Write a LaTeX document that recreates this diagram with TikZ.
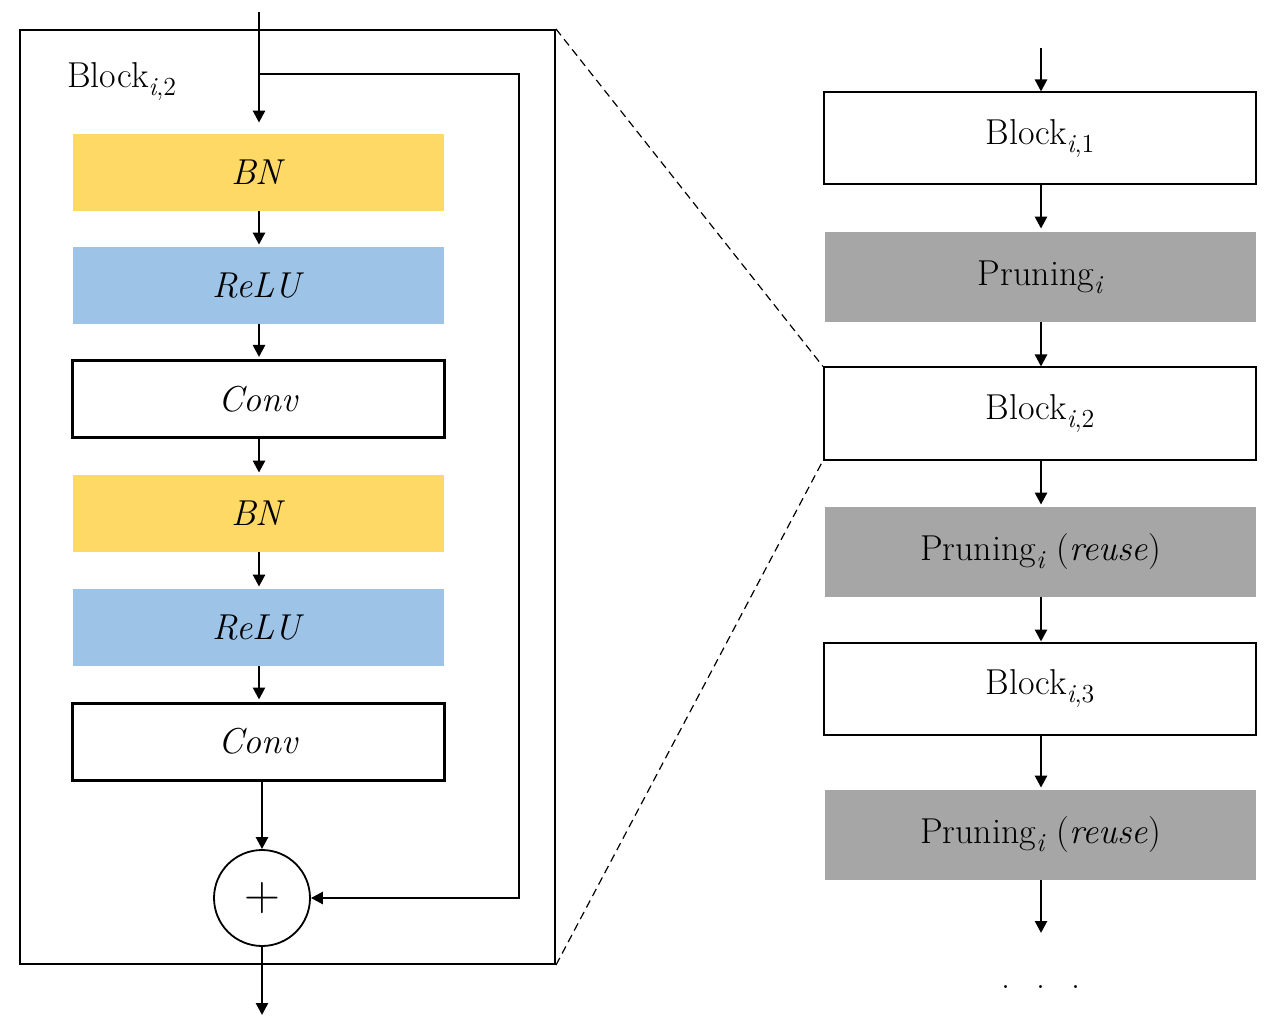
\documentclass[tikz,border=0pt]{standalone}
\usepackage{fontspec}
\usetikzlibrary{arrows.meta}
\definecolor{bnyellow}{HTML}{FFD966}
\definecolor{relublue}{HTML}{9DC3E6}
\definecolor{prungray}{HTML}{A6A6A6}
\newcommand{\sbs}[1]{\raisebox{-4pt}{\fontsize{13}{15}\selectfont #1}}
\begin{document}
\begin{tikzpicture}[x=0.5pt,y=-0.5pt,
  every node/.style={font=\fontsize{18}{21}\selectfont, inner sep=0pt},
  layer/.style={minimum width=185.5pt, minimum height=38.5pt},
  bnbox/.style={layer, fill=bnyellow},
  relubox/.style={layer, fill=relublue},
  convbox/.style={minimum width=186pt, minimum height=38.5pt, draw, line width=1.5pt},
  blockbox/.style={minimum width=216pt, minimum height=46pt, draw, line width=1pt},
  prunbox/.style={minimum width=215.5pt, minimum height=45pt, fill=prungray},
  arr/.style={line width=1.3pt, -{Triangle[width=6pt,length=6pt]}},
  zoomline/.style={line width=0.6pt, dash pattern=on 4pt off 2.5pt}]
\useasboundingbox (0,0) rectangle (1277,1031);

% ---------- left: detailed block ----------
\node[draw, line width=1pt, minimum width=267.5pt, minimum height=467pt] (outer) at (287.5,497) {};
\node[anchor=base west] (lbl) at (67,88) {Block\sbs{\textit{i},2}};

\node[bnbox] (bn1) at (258.5,172.5) {\textit{BN}};
\node[relubox] (relu1) at (258.5,285.5) {\textit{ReLU}};
\node[convbox] (conv1) at (258.5,399) {\textit{Conv}};
\node[bnbox] (bn2) at (258.5,513.5) {\textit{BN}};
\node[relubox] (relu2) at (258.5,627.5) {\textit{ReLU}};
\node[convbox] (conv2) at (258.5,741.5) {\textit{Conv}};
\node[draw, circle, line width=0.9pt, minimum size=48pt, font=\fontsize{24}{26}\selectfont] (plus) at (262,898) {$+$};

\coordinate (in) at (259,12);
\coordinate (sk) at (259,74);
\coordinate (skr) at (519,74);
\coordinate (out) at (262,1015);

\draw[arr, shorten >=5.5pt] (in) -- (bn1.north -| in);
\draw[arr, shorten >=1pt] (bn1.south -| in) -- (relu1.north -| in);
\draw[arr, shorten >=1pt] (relu1.south -| in) -- (conv1.north -| in);
\draw[arr, shorten >=1pt] (conv1.south -| in) -- (bn2.north -| in);
\draw[arr, shorten >=1pt] (bn2.south -| in) -- (relu2.north -| in);
\draw[arr, shorten >=1pt] (relu2.south -| in) -- (conv2.north -| in);
\draw[arr] (conv2.south -| plus.north) -- (plus.north);
\draw[arr] (sk) -- (skr) |- (plus.east);
\draw[arr] (plus.south) -- (out);

% ---------- right: chain ----------
\node[blockbox] (b1) at (1040,138.5) {Block\sbs{\textit{i},1}};
\node[prunbox] (p1) at (1040.5,277) {Pruning\sbs{\textit{i}}};
\node[blockbox] (b2) at (1040,413.5) {Block\sbs{\textit{i},2}};
\node[prunbox] (p2) at (1040.5,552) {Pruning\sbs{\textit{i}} (\textit{reuse})};
\node[blockbox] (b3) at (1040,688.5) {Block\sbs{\textit{i},3}};
\node[prunbox] (p3) at (1040.5,835) {Pruning\sbs{\textit{i}} (\textit{reuse})};
\node[anchor=base] (dots) at (1041,988) {.\hspace{13.2pt}.\hspace{13.2pt}.};

\coordinate (rin) at (1041,48);
\coordinate (rout) at (1041,933);
\draw[arr] (rin) -- (b1.north -| rin);
\draw[arr, shorten >=1.5pt] (b1.south -| rin) -- (p1.north -| rin);
\draw[arr] (p1.south -| rin) -- (b2.north -| rin);
\draw[arr, shorten >=1pt] (b2.south -| rin) -- (p2.north -| rin);
\draw[arr] (p2.south -| rin) -- (b3.north -| rin);
\draw[arr, shorten >=1pt] (b3.south -| rin) -- (p3.north -| rin);
\draw[arr] (p3.south -| rin) -- (rout);

% ---------- zoom lines ----------
\draw[zoomline] (outer.north east) -- (b2.north west);
\draw[zoomline] (outer.south east) -- (b2.south west);
\end{tikzpicture}
\end{document}
